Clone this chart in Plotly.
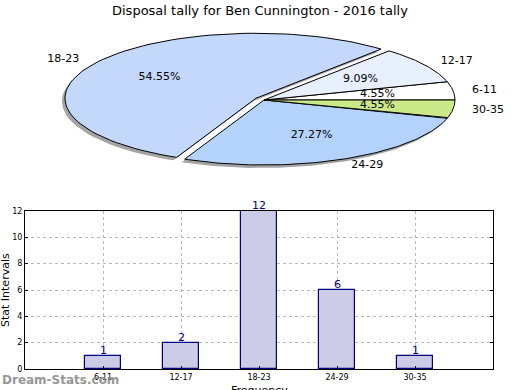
import numpy as np
import plotly.graph_objects as go

# ---- data ----
title = "Disposal tally for Ben Cunnington - 2016 tally"
categories = ["6-11", "12-17", "18-23", "24-29", "30-35"]
counts = [1, 2, 12, 6, 1]
pie_colors = ["#ffffff", "#e8f0fe", "#c4d8fc", "#b3d3fc", "#cce98a"]
explode = [0.0, 0.0, 0.05, 0.0, 0.0]
y_ticks = [0, 2, 4, 6, 8, 10, 12]

FONT = "DejaVu Sans"
W, H = 520, 390

fig = go.Figure()

# ---- elliptical pie (pixel-space axes x2/y2) ----
cx, cy, a, b = 264.0, 100.0, 191.0, 65.0
total = float(sum(counts))
fracs = [c / total for c in counts]
start = 0.0
wedges = []
for cat, f, col, ex in zip(categories, fracs, pie_colors, explode):
    t1, t2 = start, start + 360.0 * f
    start = t2
    mid = np.radians((t1 + t2) / 2)
    ox = a * ex * np.cos(mid)
    oy = -b * ex * np.sin(mid)
    th = np.radians(np.linspace(t1, t2, 80))
    xs = np.concatenate([[cx + ox], cx + ox + a * np.cos(th), [cx + ox]])
    ys = np.concatenate([[cy + oy], cy + oy - b * np.sin(th), [cy + oy]])
    wedges.append((cat, f, col, xs, ys, mid, ox, oy))

# shadows
for cat, f, col, xs, ys, mid, ox, oy in wedges:
    fig.add_trace(go.Scatter(x=xs - 3, y=ys + 3, mode="lines", fill="toself",
                             fillcolor="rgba(90,90,90,0.55)", line=dict(width=0),
                             xaxis="x2", yaxis="y2", hoverinfo="skip", showlegend=False))
# wedges
for cat, f, col, xs, ys, mid, ox, oy in wedges:
    fig.add_trace(go.Scatter(x=xs, y=ys, mode="lines", fill="toself",
                             fillcolor=col, line=dict(color="black", width=1),
                             xaxis="x2", yaxis="y2", hoverinfo="skip", showlegend=False))
# pct labels and category labels
for cat, f, col, xs, ys, mid, ox, oy in wedges:
    px_ = cx + ox + 0.6 * a * np.cos(mid)
    py_ = cy + oy - 0.6 * b * np.sin(mid)
    fig.add_trace(go.Scatter(x=[px_], y=[py_], mode="text", text=["%.2f%%" % (f * 100)],
                             textposition="middle center",
                             textfont=dict(family=FONT, size=11, color="black"),
                             xaxis="x2", yaxis="y2", hoverinfo="skip", showlegend=False))
    lx = cx + ox + 1.1 * a * np.cos(mid)
    ly = cy + oy - 1.1 * b * np.sin(mid)
    pos = "middle right" if np.cos(mid) >= 0 else "middle left"
    fig.add_trace(go.Scatter(x=[lx], y=[ly], mode="text", text=[cat],
                             textposition=pos,
                             textfont=dict(family=FONT, size=11, color="black"),
                             xaxis="x2", yaxis="y2", hoverinfo="skip", showlegend=False))

# ---- bar chart ----
fig.add_trace(go.Bar(x=categories, y=counts, width=0.47,
                     marker=dict(color="#cccce6", line=dict(color="#000080", width=1.2)),
                     hoverinfo="skip", showlegend=False))

bar_labels = [
    dict(x=c, y=v, xref="x", yref="y", text=str(v), showarrow=False,
         xanchor="center", yanchor="bottom", yshift=-3,
         font=dict(family=FONT, size=11, color="#000080"))
    for c, v in zip(categories, counts)
]

fig.update_layout(
    width=W, height=H, autosize=False,
    margin=dict(l=0, r=0, t=0, b=0, pad=0),
    paper_bgcolor="white", plot_bgcolor="rgba(0,0,0,0)",
    font=dict(family=FONT, color="black"),
    bargap=0,
    xaxis=dict(domain=[25 / W, 493 / W], anchor="y", type="category",
               range=[-1, 5], showline=True, mirror=True, linecolor="black", linewidth=1,
               showgrid=True, gridcolor="#b8b8b8", griddash="dot", gridwidth=1,
               ticks="inside", ticklen=3, tickcolor="black", automargin=False,
               tickfont=dict(family=FONT, size=8), zeroline=False),
    yaxis=dict(domain=[1 - 369 / H, 1 - 211 / H], anchor="x",
               range=[0, 12], tickvals=y_ticks, showline=True, mirror="ticks",
               linecolor="black", linewidth=1, automargin=False,
               showgrid=True, gridcolor="#b8b8b8", griddash="dot", gridwidth=1,
               ticks="inside", ticklen=3, tickcolor="black",
               tickfont=dict(family=FONT, size=8), zeroline=False),
    xaxis2=dict(domain=[0, 1], range=[0, W], visible=False, anchor="y2", fixedrange=True),
    yaxis2=dict(domain=[0, 1], range=[H, 0], visible=False, anchor="x2", fixedrange=True),
    annotations=bar_labels + [
        dict(text=title, x=260 / W, y=1 - 10 / H, xref="paper", yref="paper",
             showarrow=False, font=dict(family=FONT, size=13, color="black"),
             xanchor="center", yanchor="middle"),
        dict(text="Stat Intervals", x=5 / W, y=1 - 290 / H, xref="paper", yref="paper",
             showarrow=False, textangle=-90, font=dict(family=FONT, size=11),
             xanchor="center", yanchor="middle"),
        dict(text="Frequency", x=259 / W, y=1 - 390 / H, xref="paper", yref="paper",
             showarrow=False, font=dict(family=FONT, size=11),
             xanchor="center", yanchor="middle"),
        dict(text="<b>Dream-Stats.com</b>", x=0, y=1 - 380 / H, xref="paper", yref="paper",
             showarrow=False, font=dict(family=FONT, size=12, color="#8c8c8c"),
             xanchor="left", yanchor="middle", opacity=0.9),
    ],
)

fig.write_html("out.html", config={"displayModeBar": False, "responsive": False})

# pin the figure to the window's top-left corner with no page margin
with open("out.html", "r", encoding="utf-8") as fh:
    html = fh.read()
css = ("<style>html,body{margin:0;padding:0;overflow:hidden;width:520px;height:390px;}"
       ".plotly-graph-div{position:absolute;top:0;left:0;}</style>")
html = html.replace("<head>", "<head>" + css, 1)
with open("out.html", "w", encoding="utf-8") as fh:
    fh.write(html)
